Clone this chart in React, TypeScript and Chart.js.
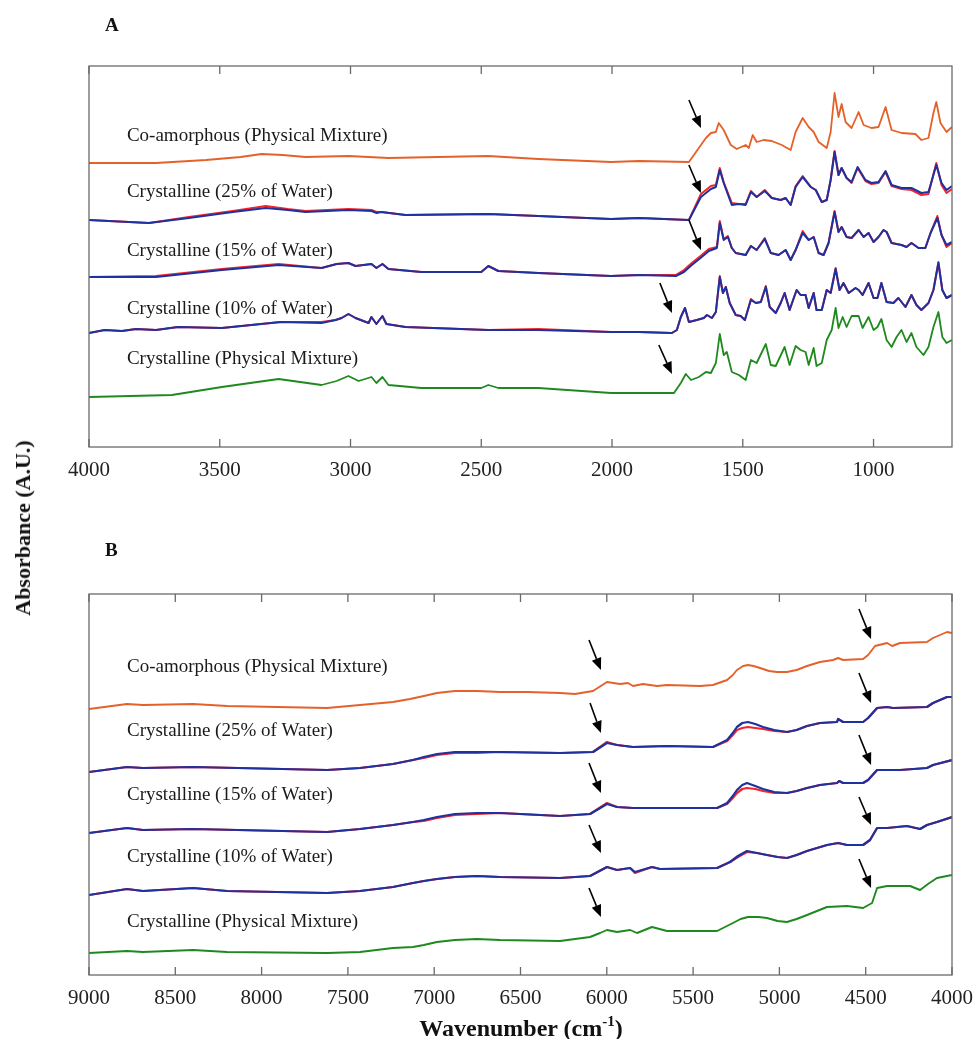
import React, { useEffect, useRef } from "react";
import { Chart, registerables } from "chart.js";
Chart.register(...registerables);

const FONT = "'Liberation Serif', 'Times New Roman', serif";
const ORANGE = "#E4612A";
const RED = "#F2262B";
const BLUE = "#1F319E";
const GREEN = "#1E8A1E";

type P = [number, number][];

// ---------- Panel A (4000 - 700 cm-1) ----------
const coAmA: P = [[4000,284],[3744,284],[3553,287],[3420,290],[3340,293],[3260,292],[3172,290],[3008,291],[2855,289],[2473,291],[2282,288],[2004,285],[1897,286],[1706,285],[1641,309],[1622,314],[1603,315],[1592,324],[1573,317],[1546,302],[1523,298],[1489,302],[1477,299],[1462,312],[1447,305],[1420,307],[1389,306],[1351,302],[1317,297],[1298,315],[1271,329],[1248,320],[1229,315],[1210,305],[1179,299],[1164,315],[1149,354],[1134,330],[1122,343],[1107,325],[1084,319],[1057,335],[1038,322],[1008,319],[981,320],[954,340],[931,317],[893,314],[840,313],[817,307],[790,309],[771,334],[760,345],[744,324],[721,315],[700,320]];
const w25BlueA: P = [[4000,227],[3771,224],[3618,229],[3450,235],[3324,239],[3240,237],[3172,235],[3008,237],[2920,236],[2900,234],[2882,235],[2790,232],[2473,233],[2282,231],[2004,228],[1897,229],[1706,227],[1660,250],[1622,258],[1603,260],[1588,277],[1573,264],[1542,242],[1515,243],[1489,242],[1469,255],[1447,250],[1416,256],[1389,249],[1355,247],[1336,249],[1317,242],[1298,260],[1271,270],[1240,260],[1221,257],[1198,245],[1179,247],[1164,267],[1149,295],[1134,272],[1122,279],[1103,269],[1084,265],[1061,280],[1031,267],[1008,264],[981,265],[954,276],[931,262],[893,259],[855,259],[817,254],[790,255],[760,282],[740,264],[721,257],[700,261]];
const w25RedA: P = [[4000,227],[3771,224],[3618,230],[3450,236],[3324,241],[3240,238],[3172,236],[3008,238],[2920,237],[2900,235],[2882,235],[2790,232],[2473,233],[2282,231],[2004,228],[1897,229],[1706,227],[1660,253],[1622,261],[1603,262],[1588,279],[1573,265],[1542,244],[1515,243],[1489,243],[1469,256],[1447,250],[1416,257],[1389,249],[1355,247],[1336,249],[1317,242],[1298,261],[1271,271],[1240,260],[1221,257],[1198,245],[1179,247],[1164,267],[1149,296],[1134,272],[1122,279],[1103,269],[1084,264],[1061,279],[1031,266],[1008,263],[981,264],[954,275],[931,261],[893,258],[855,257],[817,252],[790,253],[760,284],[740,262],[721,254],[700,258]];
const w15BlueA: P = [[4000,170],[3744,170],[3492,177],[3275,182],[3111,179],[3053,183],[3008,184],[2981,181],[2920,183],[2901,179],[2878,183],[2855,178],[2729,175],[2500,175],[2473,181],[2435,176],[2282,174],[2004,171],[1897,172],[1756,171],[1725,175],[1695,182],[1657,190],[1630,196],[1599,199],[1588,224],[1573,207],[1557,210],[1542,199],[1527,194],[1489,192],[1469,201],[1447,197],[1416,208],[1393,194],[1363,192],[1336,197],[1317,187],[1298,197],[1271,214],[1248,207],[1229,210],[1210,194],[1191,192],[1172,204],[1149,235],[1134,215],[1122,220],[1103,210],[1084,209],[1057,217],[1038,210],[1019,214],[1000,205],[981,210],[962,217],[950,215],[931,204],[893,202],[874,200],[855,204],[828,199],[802,199],[782,214],[756,229],[740,212],[721,202],[700,205]];
const w15RedA: P = [[4000,170],[3744,171],[3492,178],[3275,183],[3111,179],[3053,183],[3008,184],[2981,181],[2920,183],[2901,179],[2878,183],[2855,178],[2729,175],[2500,175],[2473,181],[2435,176],[2282,174],[2004,171],[1897,172],[1756,172],[1725,177],[1695,184],[1657,192],[1630,198],[1599,200],[1588,226],[1573,208],[1557,211],[1542,199],[1527,194],[1489,192],[1469,201],[1447,197],[1416,209],[1393,194],[1363,192],[1336,197],[1317,187],[1298,197],[1271,216],[1248,207],[1229,210],[1210,194],[1191,192],[1172,204],[1149,236],[1134,215],[1122,220],[1103,210],[1084,209],[1057,217],[1038,210],[1019,214],[1000,205],[981,210],[962,217],[950,215],[931,204],[893,202],[874,200],[855,204],[828,199],[802,199],[782,214],[756,231],[740,212],[721,200],[700,204]];
const w10BlueA: P = [[4000,114],[3940,117],[3874,116],[3820,118],[3744,117],[3660,120],[3492,119],[3267,125],[3111,124],[3057,127],[3034,129],[3008,133],[2981,129],[2931,124],[2920,130],[2901,123],[2878,131],[2863,123],[2790,120],[2473,117],[2282,117],[2004,115],[1897,115],[1771,114],[1752,117],[1737,130],[1721,139],[1706,125],[1676,127],[1649,129],[1637,132],[1618,129],[1603,135],[1588,170],[1576,154],[1565,160],[1550,144],[1527,132],[1508,131],[1492,127],[1469,147],[1450,144],[1431,145],[1412,160],[1397,140],[1374,134],[1355,144],[1340,154],[1321,137],[1305,149],[1294,157],[1279,152],[1260,152],[1248,139],[1229,154],[1218,137],[1198,137],[1179,157],[1164,154],[1145,178],[1130,157],[1115,164],[1095,154],[1069,159],[1057,157],[1042,152],[1019,164],[1000,149],[985,149],[970,164],[950,145],[924,144],[905,149],[878,140],[855,152],[836,142],[817,137],[790,144],[771,157],[752,184],[737,157],[721,149],[700,152]];
const w10RedA: P = [[4000,114],[3940,117],[3874,116],[3820,118],[3744,117],[3660,120],[3492,119],[3267,125],[3111,125],[3057,127],[3034,129],[3008,133],[2981,129],[2931,124],[2920,130],[2901,123],[2878,131],[2863,123],[2790,120],[2473,117],[2282,118],[2004,115],[1897,115],[1771,114],[1752,117],[1737,130],[1721,139],[1706,125],[1676,127],[1649,129],[1637,132],[1618,129],[1603,135],[1588,171],[1576,154],[1565,160],[1550,144],[1527,132],[1508,131],[1492,127],[1469,148],[1450,144],[1431,145],[1412,161],[1397,140],[1374,134],[1355,144],[1340,154],[1321,137],[1305,149],[1294,157],[1279,152],[1260,152],[1248,139],[1229,154],[1218,137],[1198,137],[1179,157],[1164,154],[1145,179],[1130,157],[1115,164],[1095,154],[1069,159],[1057,157],[1042,152],[1019,164],[1000,149],[985,149],[970,164],[950,145],[924,144],[905,149],[878,140],[855,152],[836,142],[817,137],[790,144],[771,157],[752,185],[737,157],[721,149],[700,152]];
const pmA: P = [[4000,50],[3683,52],[3492,60],[3275,68],[3111,62],[3053,66],[3008,71],[2969,66],[2920,70],[2901,64],[2878,70],[2855,62],[2729,59],[2500,59],[2473,62],[2435,59],[2282,59],[2004,54],[1897,54],[1763,54],[1737,64],[1718,73],[1698,67],[1668,70],[1641,75],[1622,74],[1603,84],[1588,113],[1573,92],[1561,95],[1542,75],[1515,72],[1489,67],[1469,87],[1447,84],[1412,103],[1393,82],[1374,81],[1340,100],[1321,82],[1298,101],[1279,97],[1260,95],[1248,82],[1229,99],[1218,81],[1198,84],[1179,107],[1160,117],[1145,139],[1134,119],[1118,130],[1103,120],[1084,131],[1057,131],[1042,119],[1019,130],[1000,117],[985,120],[970,128],[950,107],[931,100],[912,110],[893,117],[874,105],[855,114],[836,100],[809,92],[790,100],[771,120],[752,135],[737,110],[721,104],[700,107]];

// ---------- Panel B (9000 - 4000 cm-1) ----------
const coAmB: P = [[9000,266],[8780,271],[8687,270],[8397,271],[8200,269],[7621,267],[7430,270],[7239,273],[7140,276],[7060,279],[6984,282],[6880,284],[6752,284],[6619,283],[6462,283],[6271,282],[6184,281],[6080,284],[5999,293],[5923,291],[5877,292],[5848,289],[5790,291],[5709,289],[5651,290],[5460,289],[5385,290],[5303,295],[5270,300],[5246,305],[5210,309],[5182,310],[5150,309],[5112,307],[5060,304],[5014,303],[4956,303],[4900,305],[4840,309],[4765,313],[4689,315],[4660,317],[4631,315],[4515,316],[4486,320],[4446,329],[4376,332],[4347,329],[4301,332],[4145,333],[4110,337],[4029,343],[4000,342]];
const w25BlueB: P = [[9000,203],[8780,208],[8687,207],[8397,208],[7621,205],[7430,207],[7239,211],[7123,215],[7060,218],[6984,221],[6880,223],[6752,223],[6619,223],[6271,222],[6080,223],[5999,232],[5941,230],[5848,228],[5651,229],[5385,228],[5303,235],[5270,242],[5246,248],[5215,252],[5182,253],[5140,251],[5095,248],[5030,245],[4956,243],[4900,245],[4840,249],[4765,252],[4666,253],[4660,256],[4631,253],[4515,253],[4486,257],[4434,267],[4376,268],[4342,267],[4145,268],[4110,272],[4029,278],[4000,278]];
const w25RedB: P = [[9000,203],[8780,208],[8687,207],[8397,208],[7621,205],[7430,207],[7239,211],[7123,215],[7060,217],[6984,220],[6880,222],[6752,222],[6619,223],[6271,222],[6080,223],[5999,233],[5941,230],[5848,228],[5651,229],[5385,228],[5303,234],[5270,240],[5246,245],[5215,247],[5182,248],[5140,247],[5095,246],[5030,244],[4956,243],[4900,245],[4840,249],[4765,252],[4666,253],[4660,256],[4631,253],[4515,253],[4486,257],[4434,267],[4376,268],[4342,267],[4145,268],[4110,272],[4029,278],[4000,278]];
const w15BlueB: P = [[9000,142],[8780,147],[8687,145],[8397,146],[7621,143],[7430,146],[7239,150],[7123,153],[7060,155],[6984,158],[6880,161],[6752,162],[6619,162],[6271,159],[6097,161],[5999,171],[5941,168],[5848,167],[5651,167],[5361,167],[5303,172],[5270,179],[5246,185],[5215,190],[5188,192],[5140,189],[5095,186],[5030,183],[4956,182],[4900,184],[4840,187],[4765,190],[4666,192],[4654,194],[4631,192],[4515,192],[4486,195],[4434,205],[4376,205],[4301,205],[4145,207],[4110,210],[4000,215]];
const w15RedB: P = [[9000,142],[8780,147],[8687,145],[8397,146],[7621,143],[7430,146],[7239,150],[7123,153],[7060,154],[6984,157],[6880,160],[6752,161],[6619,162],[6271,159],[6097,161],[5999,172],[5941,168],[5848,167],[5651,167],[5361,167],[5303,171],[5270,177],[5246,182],[5215,186],[5188,187],[5140,186],[5095,184],[5030,182],[4956,182],[4900,184],[4840,187],[4765,190],[4666,192],[4654,194],[4631,192],[4515,192],[4486,195],[4434,205],[4376,205],[4301,205],[4145,207],[4110,210],[4000,215]];
const w10BlueB: P = [[9000,80],[8780,86],[8687,84],[8397,87],[8200,84],[7621,82],[7430,84],[7239,88],[7123,92],[7060,94],[6984,96],[6880,98],[6752,99],[6619,98],[6271,97],[6097,99],[5999,108],[5941,105],[5865,107],[5837,103],[5738,108],[5692,106],[5361,107],[5286,113],[5240,119],[5188,124],[5130,122],[5072,120],[5010,118],[4956,117],[4900,120],[4840,124],[4724,130],[4660,132],[4608,130],[4515,130],[4475,135],[4434,147],[4376,147],[4261,149],[4185,146],[4145,150],[4087,153],[4000,158]];
const w10RedB: P = [[9000,80],[8780,86],[8687,84],[8397,87],[8200,84],[7621,82],[7430,84],[7239,88],[7123,92],[7060,94],[6984,96],[6880,98],[6752,99],[6619,98],[6271,97],[6097,99],[5999,108],[5941,105],[5865,107],[5837,102],[5738,108],[5692,106],[5361,107],[5286,113],[5240,118],[5188,123],[5130,122],[5072,120],[5010,118],[4956,117],[4900,120],[4840,124],[4724,130],[4660,132],[4608,130],[4515,130],[4475,135],[4434,147],[4376,147],[4261,149],[4185,146],[4145,150],[4087,153],[4000,158]];
const pmB: P = [[9000,22],[8780,24],[8687,23],[8397,25],[8200,23],[7621,22],[7430,23],[7239,27],[7123,28],[7060,30],[6984,33],[6880,35],[6752,36],[6619,35],[6271,34],[6097,38],[6039,42],[5999,45],[5941,43],[5865,45],[5825,42],[5738,48],[5651,44],[5361,44],[5269,52],[5225,56],[5182,58],[5120,58],[5072,57],[5010,54],[4956,53],[4900,56],[4840,60],[4724,68],[4608,69],[4515,67],[4463,72],[4434,87],[4376,89],[4243,89],[4185,85],[4139,91],[4087,97],[4000,100]];

// ---------- ticks, labels, arrows ----------
const ticksA = [4000, 3500, 3000, 2500, 2000, 1500, 1000];
const ticksB = [9000, 8500, 8000, 7500, 7000, 6500, 6000, 5500, 5000, 4500, 4000];
const sampleNames = [
  "Co-amorphous (Physical Mixture)",
  "Crystalline (25% of Water)",
  "Crystalline (15% of Water)",
  "Crystalline (10% of Water)",
  "Crystalline (Physical Mixture)",
];
const labelYA = [311, 255, 196, 138, 88];
const labelYB = [308, 244, 180, 118, 53];
const labelXA = 3855;
const labelXB = 8780;
const arrowsA: [number, number, number, number][] = [
  [1706, 347, 1660, 319], [1706, 282, 1660, 254], [1706, 227, 1660, 197], [1817, 164, 1771, 134], [1821, 102, 1771, 73],
];
const arrowsB: [number, number, number, number][] = [
  [6103, 335, 6034, 305], [6097, 272, 6034, 242], [6103, 212, 6034, 182], [6103, 150, 6034, 122], [6103, 87, 6034, 58],
  [4539, 366, 4469, 336], [4539, 302, 4469, 272], [4539, 240, 4469, 210], [4539, 178, 4469, 150], [4539, 116, 4469, 87],
];

interface PanelCfg {
  series: { pts: P; color: string; width: number }[];
  min: number; max: number; ticks: number[];
  labelX: number; labelY: number[]; arrows: [number, number, number, number][];
  padTop: number; padBottom: number;
}

// listed top-most first: Chart.js paints dataset 0 last (on top)
const panelA: PanelCfg = {
  series: [
    { pts: coAmA, color: ORANGE, width: 1.8 },
    { pts: w25BlueA, color: BLUE, width: 2 }, { pts: w15BlueA, color: BLUE, width: 2 }, { pts: w10BlueA, color: BLUE, width: 2 },
    { pts: pmA, color: GREEN, width: 1.8 },
    { pts: w25RedA, color: RED, width: 2 }, { pts: w15RedA, color: RED, width: 2 }, { pts: w10RedA, color: RED, width: 2 },
  ],
  min: 700, max: 4000, ticks: ticksA, labelX: labelXA, labelY: labelYA, arrows: arrowsA,
  padTop: 66, padBottom: 13,
};
const panelB: PanelCfg = {
  series: [
    { pts: coAmB, color: ORANGE, width: 1.9 },
    { pts: w25BlueB, color: BLUE, width: 2.2 }, { pts: w15BlueB, color: BLUE, width: 2.2 }, { pts: w10BlueB, color: BLUE, width: 2.2 },
    { pts: pmB, color: GREEN, width: 1.9 },
    { pts: w25RedB, color: RED, width: 2.2 }, { pts: w15RedB, color: RED, width: 2.2 }, { pts: w10RedB, color: RED, width: 2.2 },
  ],
  min: 4000, max: 9000, ticks: ticksB, labelX: labelXB, labelY: labelYB, arrows: arrowsB,
  padTop: 74, padBottom: 5,
};

function makeDecor(cfg: PanelCfg) {
  return {
    id: "decor",
    afterDatasetsDraw(chart: any) {
      const { ctx, chartArea: a, scales } = chart;
      const xs = scales.x, ys = scales.y;
      ctx.save();
      ctx.strokeStyle = "#6a6a6a";
      ctx.lineWidth = 1.3;
      ctx.strokeRect(a.left, a.top, a.right - a.left, a.bottom - a.top);
      ctx.beginPath();
      for (const t of cfg.ticks) {
        const px = xs.getPixelForValue(t);
        ctx.moveTo(px, a.bottom); ctx.lineTo(px, a.bottom - 8);
        ctx.moveTo(px, a.top); ctx.lineTo(px, a.top + 8);
      }
      ctx.stroke();
      ctx.fillStyle = "#1a1a1a";
      ctx.font = `19px ${FONT}`;
      ctx.textBaseline = "middle";
      ctx.textAlign = "left";
      sampleNames.forEach((s, i) => {
        ctx.fillText(s, xs.getPixelForValue(cfg.labelX), ys.getPixelForValue(cfg.labelY[i]));
      });
      ctx.strokeStyle = "#000";
      ctx.fillStyle = "#000";
      ctx.lineWidth = 1.6;
      for (const [x0, y0, x1, y1] of cfg.arrows) {
        const sx = xs.getPixelForValue(x0), sy = ys.getPixelForValue(y0);
        const ex = xs.getPixelForValue(x1), ey = ys.getPixelForValue(y1);
        const ang = Math.atan2(ey - sy, ex - sx);
        const hl = 12, hw = 5;
        const bx = ex - hl * Math.cos(ang), by = ey - hl * Math.sin(ang);
        ctx.beginPath(); ctx.moveTo(sx, sy); ctx.lineTo(bx, by); ctx.stroke();
        ctx.beginPath();
        ctx.moveTo(ex, ey);
        ctx.lineTo(bx + hw * Math.sin(ang), by - hw * Math.cos(ang));
        ctx.lineTo(bx - hw * Math.sin(ang), by + hw * Math.cos(ang));
        ctx.closePath(); ctx.fill();
      }
      ctx.restore();
    },
  };
}

function Panel({ cfg, top }: { cfg: PanelCfg; top: number }) {
  const ref = useRef<HTMLCanvasElement | null>(null);
  useEffect(() => {
    if (!ref.current) return;
    const chart = new Chart(ref.current, {
      type: "line",
      data: {
        datasets: cfg.series.map((s) => ({
          data: s.pts.map(([x, y]) => ({ x, y })),
          borderColor: s.color,
          borderWidth: s.width,
          borderJoinStyle: "round",
          pointRadius: 0,
          tension: 0,
          fill: false,
        })),
      },
      options: {
        animation: false,
        responsive: false,
        maintainAspectRatio: false,
        events: [],
        layout: { padding: { left: 89, right: 22, top: cfg.padTop, bottom: cfg.padBottom } },
        plugins: { legend: { display: false }, tooltip: { enabled: false } },
        scales: {
          x: {
            type: "linear",
            reverse: true,
            min: cfg.min,
            max: cfg.max,
            grid: { display: false, drawTicks: false },
            border: { display: false },
            afterBuildTicks: (s: any) => { s.ticks = cfg.ticks.map((v) => ({ value: v })); },
            afterFit: (s: any) => { s.height = 40; s.paddingLeft = 0; s.paddingRight = 0; },
            ticks: {
              autoSkip: false,
              maxRotation: 0,
              padding: 11,
              color: "#222",
              font: { family: FONT, size: 21 },
              callback: (v: any) => String(v),
            },
          },
          y: { display: false, min: 0, max: 381 },
        },
      } as any,
      plugins: [makeDecor(cfg)],
    });
    return () => chart.destroy();
  }, [cfg]);
  return (
    <canvas
      ref={ref}
      width={974}
      height={500}
      style={{ position: "absolute", left: 0, top, width: 974, height: 500 }}
    />
  );
}

export default function App() {
  return (
    <div style={{ position: "absolute", left: 0, top: 0, width: 974, height: 1039, background: "#fff", overflow: "hidden", fontFamily: FONT, color: "#111" }}>
      <Panel cfg={panelA} top={0} />
      <Panel cfg={panelB} top={520} />
      <div style={{ position: "absolute", left: 105, top: 15, fontSize: 19, fontWeight: "bold", lineHeight: "20px" }}>A</div>
      <div style={{ position: "absolute", left: 105, top: 540, fontSize: 19, fontWeight: "bold", lineHeight: "20px" }}>B</div>
      <div style={{ position: "absolute", left: 23, top: 528, transform: "translate(-50%, -50%) rotate(-90deg)", fontSize: 22, fontWeight: "bold", whiteSpace: "nowrap", lineHeight: "24px" }}>
        Absorbance (A.U.)
      </div>
      <div style={{ position: "absolute", left: 521, top: 1016, transform: "translateX(-50%)", fontSize: 24, fontWeight: "bold", whiteSpace: "nowrap", lineHeight: "24px" }}>
        Wavenumber (cm<sup style={{ fontSize: 15, verticalAlign: "10px", lineHeight: 0 }}>-1</sup>)
      </div>
    </div>
  );
}
